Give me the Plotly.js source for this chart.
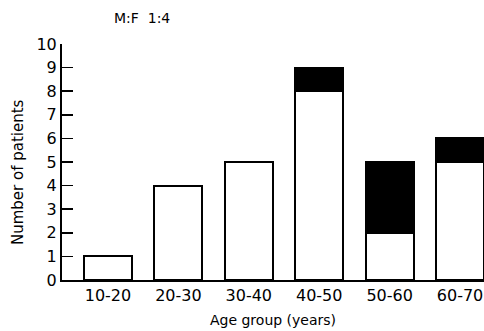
<!DOCTYPE html>
<html><head><meta charset="utf-8">
<script src="https://cdn.plot.ly/plotly-3.0.1.min.js"></script>
<style>html,body{margin:0;padding:0;background:#fff;overflow:hidden}</style>
</head><body>
<div id="chart" style="width:484px;height:331px"></div>
<script>
var categories = ["10-20","20-30","30-40","40-50","50-60","60-70"];
var whiteValues = [1,4,5,8,2,5];
var blackValues = [0,0,0,1,3,1];
var yTicks = [0,1,2,3,4,5,6,7,8,9,10];

var font = "DejaVu Sans, sans-serif";
var traces = [
  {type:"bar", x:categories, y:whiteValues, width:0.68,
   marker:{color:"#fff", line:{color:"#000", width:2}}, hoverinfo:"none"},
  {type:"bar", x:categories, y:blackValues, width:0.68,
   marker:{color:"#000", line:{color:"#000", width:2}}, hoverinfo:"none"}
];
var layout = {
  width:484, height:331, barmode:"stack", showlegend:false,
  margin:{l:62, r:0, t:44, b:51, pad:0},
  paper_bgcolor:"#fff", plot_bgcolor:"#fff",
  font:{family:font, color:"#000"},
  xaxis:{type:"category", range:[-0.653,5.34], showline:true, linecolor:"#000", linewidth:2,
    ticks:"", showgrid:false, zeroline:false, tickfont:{size:16, family:font},
    title:{text:"Age group (years)", font:{size:14, family:font}, standoff:11}},
  yaxis:{range:[0,10], tickvals:yTicks, ticktext:yTicks.map(String), showline:true, linecolor:"#000", linewidth:2,
    ticks:"inside", ticklen:11, tickwidth:1.5, tickcolor:"#000", showgrid:false, zeroline:false,
    tickfont:{size:16, family:font}},
  annotations:[
    {text:"M:F  1:4", xref:"paper", yref:"paper", x:0.19, y:1.11, xanchor:"center", yanchor:"middle", showarrow:false, font:{size:14, family:font}},
    {text:"Number of patients", xref:"paper", yref:"paper", x:-0.104, y:0.458, xanchor:"center", yanchor:"middle", textangle:-90, showarrow:false, font:{size:15, family:font}}
  ]
};
Plotly.newPlot("chart", traces, layout, {displayModeBar:false, staticPlot:true});
</script>
</body></html>
